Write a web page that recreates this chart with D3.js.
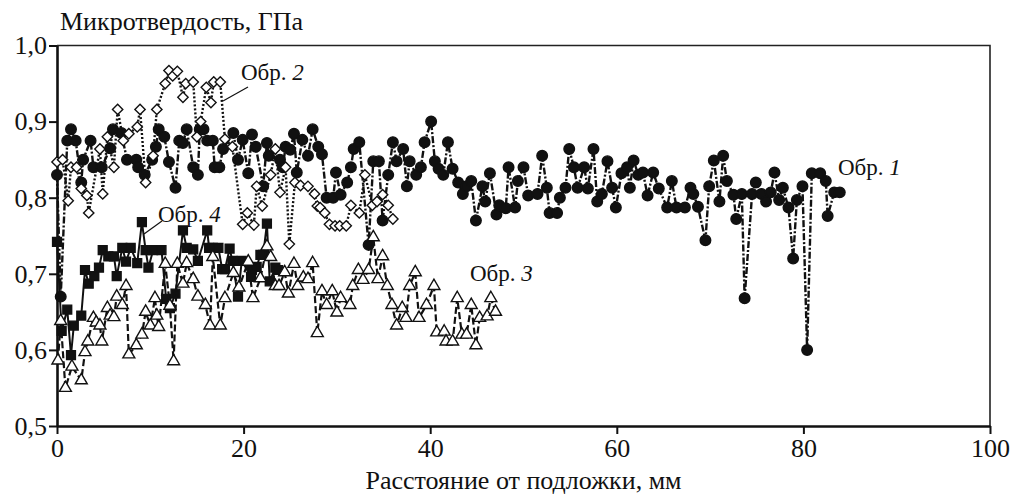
<!DOCTYPE html>
<html>
<head>
<meta charset="utf-8">
<script src="https://cdn.jsdelivr.net/npm/d3@7"></script>
<style>
  html, body { margin: 0; padding: 0; background: #fff; }
  svg { display: block; font-family: "Liberation Serif", "Times New Roman", serif; }
</style>
</head>
<body>
<svg id="chart" width="1014" height="497"></svg>
<script>
// Microhardness profiles of four samples vs. distance from the substrate

const xTicks = [0, 20, 40, 60, 80, 100];
const yTicks = [0.5, 0.6, 0.7, 0.8, 0.9, 1.0];

// Sample 1 (filled circles, dash-dot line)
const s1x = [0, 0.4, 1.1, 1.5, 2.0, 2.6, 2.8, 3.6, 3.9, 4.8, 5.7, 6.0, 6.9, 7.5, 8.5, 8.7, 9.4, 10.2, 10.6, 10.9,
  11.5, 12.0, 12.7, 13.1, 13.5, 13.9, 14.6, 15.1, 15.3, 15.7, 16.1, 16.7, 16.9, 17.4, 17.8, 18.9, 19.4, 19.9, 20.5, 20.9,
  21.3, 22.1, 22.5, 22.7, 23.9, 24.2, 24.5, 25.0, 25.4, 25.7, 26.3, 26.9, 27.4, 28.0, 28.4, 28.9, 29.6, 29.9, 30.4, 31.1,
  31.5, 31.8, 32.4, 33.4, 33.9, 34.5, 34.9, 35.5, 36.0, 36.4, 37.1, 37.5, 37.8, 38.5, 39.0, 39.4, 40.1, 40.5, 40.9, 41.4,
  41.9, 42.4, 43.0, 43.5, 43.9, 44.4, 44.9, 45.6, 45.9, 46.4, 47.1, 47.4, 48.1, 48.4, 49.1, 49.4, 50.0, 50.5, 51.5, 52.0,
  52.5, 52.8, 53.6, 53.9, 54.5, 54.9, 55.4, 55.8, 56.5, 56.9, 57.5, 57.9, 58.4, 59.0, 59.5, 59.9, 60.5, 61.1, 61.4, 61.8,
  62.3, 62.8, 63.3, 63.9, 64.5, 65.4, 65.9, 66.4, 67.3, 67.9, 68.2, 68.7, 69.5, 69.9, 70.4, 71.0, 71.4, 71.8, 72.5, 72.8,
  73.4, 73.7, 74.5, 74.9, 75.5, 76.0, 76.5, 76.9, 77.4, 77.8, 78.4, 78.9, 79.3, 79.9, 80.4, 80.9, 81.8, 82.4, 82.6, 83.3, 83.9];
const s1y = [0.830, 0.670, 0.875, 0.890, 0.875, 0.820, 0.850, 0.875, 0.840, 0.840, 0.865, 0.890, 0.885, 0.850, 0.850, 0.840, 0.830, 0.850, 0.867, 0.890,
  0.880, 0.847, 0.813, 0.875, 0.872, 0.890, 0.840, 0.830, 0.890, 0.890, 0.875, 0.875, 0.840, 0.840, 0.864, 0.885, 0.850, 0.876, 0.832, 0.883,
  0.867, 0.815, 0.872, 0.855, 0.850, 0.840, 0.867, 0.863, 0.884, 0.833, 0.876, 0.855, 0.890, 0.867, 0.857, 0.800, 0.800, 0.833, 0.804, 0.820,
  0.840, 0.864, 0.873, 0.738, 0.848, 0.848, 0.770, 0.830, 0.873, 0.848, 0.864, 0.815, 0.848, 0.830, 0.840, 0.873, 0.900, 0.848, 0.838, 0.830,
  0.873, 0.838, 0.820, 0.805, 0.815, 0.822, 0.770, 0.815, 0.795, 0.832, 0.778, 0.790, 0.786, 0.840, 0.787, 0.822, 0.840, 0.803, 0.805, 0.855,
  0.813, 0.780, 0.780, 0.800, 0.813, 0.864, 0.840, 0.813, 0.840, 0.812, 0.864, 0.795, 0.805, 0.848, 0.813, 0.787, 0.832, 0.840, 0.813, 0.849,
  0.830, 0.833, 0.803, 0.833, 0.812, 0.787, 0.822, 0.787, 0.787, 0.813, 0.805, 0.788, 0.744, 0.815, 0.849, 0.795, 0.855, 0.822, 0.804, 0.772,
  0.805, 0.668, 0.805, 0.820, 0.805, 0.795, 0.807, 0.833, 0.797, 0.813, 0.787, 0.720, 0.797, 0.815, 0.600, 0.832, 0.832, 0.822, 0.776, 0.807, 0.807];

// Sample 2 (open diamonds, dotted line)
const s2x = [0, 0.6, 1.2, 1.5, 2.1, 2.6, 3.2, 3.4, 4.6, 4.9, 5.4, 6.1, 6.5, 7.1, 7.7, 8.6, 8.9, 9.5, 10.3, 10.7,
  11.6, 12.0, 12.4, 12.9, 13.5, 13.8, 14.6, 15.0, 15.4, 16.0, 16.5, 16.8, 17.5, 18.0, 18.8, 19.9, 20.4, 21.1, 21.4, 22.0,
  22.9, 23.4, 23.9, 24.5, 24.9, 25.5, 26.1, 26.9, 27.6, 27.9, 28.2, 28.7, 29.2, 29.8, 30.3, 31.0, 31.5, 32.4, 33.0, 33.8,
  34.3, 34.9, 35.5, 36.0];
const s2y = [0.847, 0.850, 0.796, 0.840, 0.840, 0.812, 0.803, 0.780, 0.864, 0.805, 0.880, 0.840, 0.916, 0.875, 0.884, 0.893, 0.916, 0.820, 0.855, 0.916,
  0.950, 0.967, 0.960, 0.966, 0.932, 0.950, 0.952, 0.880, 0.900, 0.945, 0.925, 0.952, 0.952, 0.877, 0.867, 0.765, 0.780, 0.764, 0.815, 0.789,
  0.830, 0.864, 0.807, 0.840, 0.739, 0.820, 0.816, 0.815, 0.805, 0.789, 0.787, 0.780, 0.765, 0.763, 0.763, 0.763, 0.790, 0.780, 0.830, 0.790,
  0.795, 0.804, 0.790, 0.772];

// Sample 3 (open triangles, dashed line)
const s3x = [0.1, 0.4, 0.9, 1.6, 2.6, 3.0, 3.3, 3.9, 4.2, 4.6, 4.8, 5.4, 5.7, 6.1, 6.4, 7.0, 7.4, 7.7, 8.5, 9.1,
  9.5, 10.0, 10.5, 10.7, 10.9, 11.6, 12.1, 12.5, 12.9, 13.5, 13.9, 14.6, 15.1, 15.9, 16.4, 16.7, 17.5, 18.0, 18.9, 19.5,
  20.5, 21.0, 21.8, 22.5, 22.9, 23.4, 23.8, 24.4, 24.8, 25.4, 25.8, 26.4, 26.9, 27.4, 27.9, 28.4, 28.9, 29.5, 30.0, 30.4,
  31.4, 31.7, 32.3, 32.8, 33.4, 33.9, 34.4, 34.9, 35.4, 35.9, 36.4, 37.0, 37.4, 37.8, 38.4, 38.8, 39.6, 40.4, 40.7, 41.5,
  41.7, 42.4, 42.9, 43.4, 43.9, 44.4, 44.9, 45.3, 46.1, 46.5, 47.0];
const s3y = [0.586, 0.638, 0.550, 0.578, 0.560, 0.597, 0.611, 0.642, 0.636, 0.632, 0.611, 0.655, 0.645, 0.643, 0.670, 0.659, 0.684, 0.594, 0.606, 0.620,
  0.650, 0.632, 0.668, 0.645, 0.630, 0.713, 0.658, 0.585, 0.713, 0.687, 0.714, 0.693, 0.670, 0.659, 0.632, 0.722, 0.632, 0.668, 0.701, 0.682,
  0.716, 0.668, 0.694, 0.736, 0.722, 0.684, 0.684, 0.702, 0.674, 0.713, 0.684, 0.695, 0.693, 0.714, 0.622, 0.677, 0.659, 0.677, 0.649, 0.668,
  0.659, 0.684, 0.705, 0.692, 0.705, 0.748, 0.693, 0.723, 0.684, 0.659, 0.632, 0.655, 0.642, 0.684, 0.702, 0.642, 0.659, 0.684, 0.623, 0.624,
  0.611, 0.611, 0.668, 0.620, 0.620, 0.659, 0.606, 0.642, 0.644, 0.668, 0.650];

// Sample 4 (filled squares, solid line)
const s4x = [0, 0.5, 1.1, 1.5, 1.8, 2.6, 3.0, 3.4, 4.0, 4.5, 4.9, 5.5, 6.1, 6.4, 7.0, 7.4, 7.9, 8.6, 9.1, 9.5,
  9.8, 10.3, 11.2, 11.7, 12.1, 12.7, 13.5, 13.9, 14.6, 15.1, 16.1, 16.3, 16.7, 17.3, 17.7, 18.0, 18.5, 18.8, 19.4, 19.8,
  20.8, 20.9, 21.4, 21.8, 22.1, 22.5, 22.8, 23.4, 23.7];
const s4y = [0.742, 0.625, 0.653, 0.593, 0.632, 0.645, 0.705, 0.687, 0.697, 0.708, 0.731, 0.723, 0.723, 0.697, 0.734, 0.716, 0.734, 0.714, 0.768, 0.731,
  0.708, 0.731, 0.731, 0.667, 0.655, 0.674, 0.757, 0.734, 0.732, 0.717, 0.757, 0.734, 0.734, 0.734, 0.706, 0.706, 0.733, 0.717, 0.670, 0.717,
  0.696, 0.705, 0.709, 0.725, 0.725, 0.766, 0.690, 0.708, 0.705];

const svg = d3.select("#chart");
const x = d3.scaleLinear().domain([0, 100]).range([57, 990]);
const y = d3.scaleLinear().domain([0.5, 1.0]).range([426, 45.5]);
const fmt = d => d3.format(".1f")(d).replace(".", ",");

// plot frame (top and right edges)
svg.append("path")
  .attr("d", `M${x(0)},${y(1)}H${x(100)}V${y(0.5)}`)
  .attr("fill", "none").attr("stroke", "#222").attr("stroke-width", 1.6);

// axes
const gy = svg.append("g").attr("transform", `translate(${x(0)},0)`)
  .call(d3.axisLeft(y).tickValues(yTicks).tickFormat(fmt).tickSize(8).tickPadding(2).tickSizeOuter(0));
const gx = svg.append("g").attr("transform", `translate(0,${y(0.5)})`)
  .call(d3.axisBottom(x).tickValues(xTicks).tickFormat(d3.format("d")).tickSize(8).tickPadding(5).tickSizeOuter(0));
[gx, gy].forEach(g => {
  g.select(".domain").attr("stroke", "#111").attr("stroke-width", 2.6);
  g.selectAll(".tick line").attr("stroke", "#111").attr("stroke-width", 2);
  g.selectAll(".tick text").attr("fill", "#111").style("font-size", "26px")
    .style("font-family", "'Liberation Serif', serif");
});

// axis titles
svg.append("text").attr("x", 60).attr("y", 30)
  .style("font-size", "26px").attr("fill", "#111").text("Микротвердость, ГПа");
svg.append("text").attr("x", (x(0) + x(100)) / 2).attr("y", 489).attr("text-anchor", "middle")
  .style("font-size", "26px").attr("fill", "#111").text("Расстояние от подложки, мм");

const zip = (xs, ys) => xs.map((v, i) => [v, ys[i]]);
const line = d3.line().x(d => x(d[0])).y(d => y(d[1]));

function drawSeries(data, dash, width, symbol, size, fill) {
  const g = svg.append("g");
  g.append("path").attr("d", line(data)).attr("fill", "none")
    .attr("stroke", "#111").attr("stroke-width", width)
    .attr("stroke-dasharray", dash);
  g.selectAll("path.m").data(data).join("path").attr("class", "m")
    .attr("transform", d => `translate(${x(d[0])},${y(d[1])})`)
    .attr("d", d3.symbol().type(symbol).size(size))
    .attr("fill", fill).attr("stroke", "#111").attr("stroke-width", 1.4);
}

drawSeries(zip(s1x, s1y), "7,2,2,2", 2.4, d3.symbolCircle, 88, "#111");
drawSeries(zip(s2x, s2y), "2,2", 2.4, d3.symbolDiamond2, 68, "#fff");
drawSeries(zip(s4x, s4y), null, 2, d3.symbolSquare, 78, "#111");
drawSeries(zip(s3x, s3y), "7,3", 2.2, d3.symbolTriangle, 62, "#fff");

// series labels
function label(px, py, num) {
  const t = svg.append("text").attr("x", px).attr("y", py)
    .style("font-size", "23px").attr("fill", "#111");
  t.append("tspan").text("Обр. ");
  t.append("tspan").style("font-style", "italic").text(num);
}
label(838, 175, "1");
label(241, 80, "2");
label(470, 281, "3");
label(158, 222, "4");

// leader lines
svg.append("line").attr("x1", 223).attr("y1", 101).attr("x2", 248).attr("y2", 87)
  .attr("stroke", "#111").attr("stroke-width", 1.2);
svg.append("line").attr("x1", 144).attr("y1", 234).attr("x2", 162).attr("y2", 221)
  .attr("stroke", "#111").attr("stroke-width", 1.2);
</script>
</body>
</html>
